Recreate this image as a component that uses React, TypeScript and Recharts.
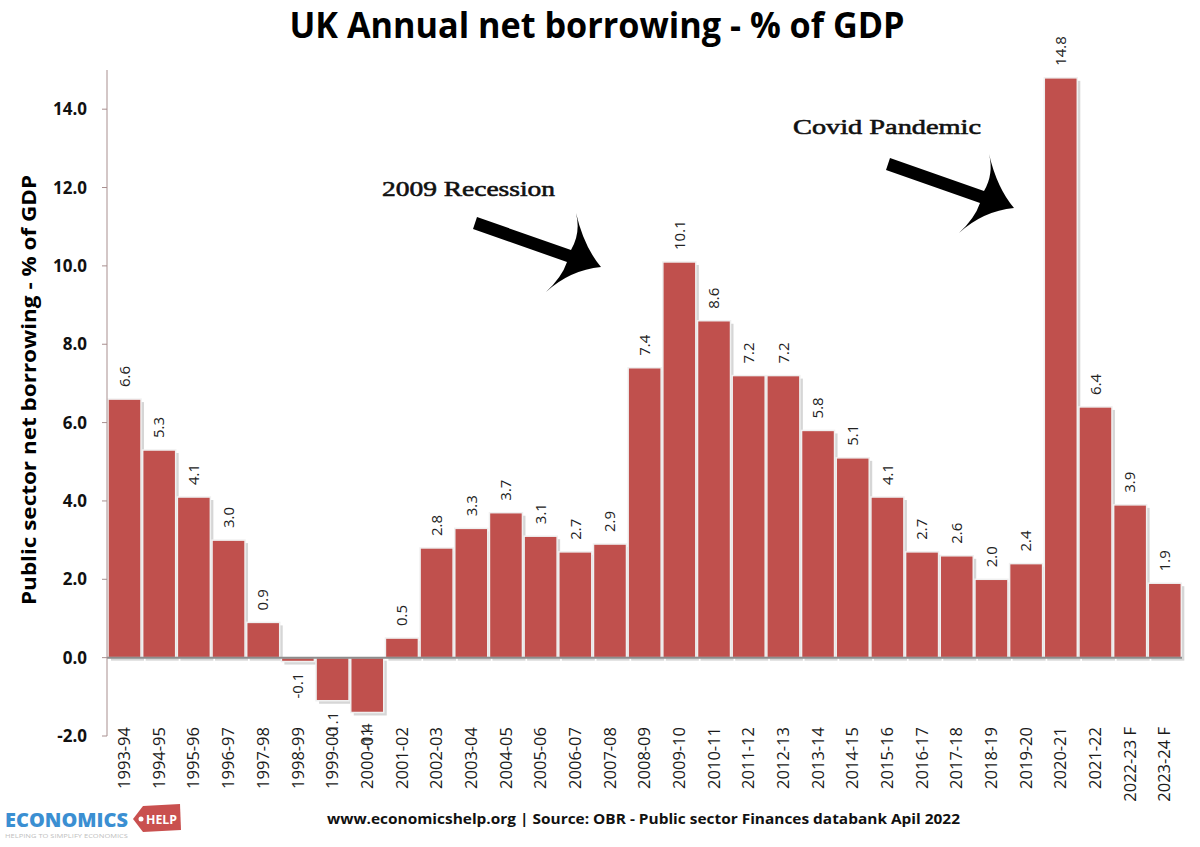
import React from "react";
import { BarChart, Bar, XAxis, YAxis, ReferenceLine, LabelList } from "recharts";

const years = [
  "1993-94", "1994-95", "1995-96", "1996-97", "1997-98", "1998-99", "1999-00", "2000-01",
  "2001-02", "2002-03", "2003-04", "2004-05", "2005-06", "2006-07", "2007-08", "2008-09",
  "2009-10", "2010-11", "2011-12", "2012-13", "2013-14", "2014-15", "2015-16", "2016-17",
  "2017-18", "2018-19", "2019-20", "2020-21", "2021-22", "2022-23 F", "2023-24 F",
];

const borrowing = [
  6.6, 5.3, 4.1, 3.0, 0.9, -0.1, -1.1, -1.4,
  0.5, 2.8, 3.3, 3.7, 3.1, 2.7, 2.9, 7.4,
  10.1, 8.6, 7.2, 7.2, 5.8, 5.1, 4.1, 2.7,
  2.6, 2.0, 2.4, 14.8, 6.4, 3.9, 1.9,
];

const yTicks = [-2, 0, 2, 4, 6, 8, 10, 12, 14];

const chartData = years.map((year, i) => ({ year, value: borrowing[i] }));

const BAR_RED = "#c0504d";
const FONT = "'Open Sans', 'DejaVu Sans', sans-serif";
const SERIF = "'Liberation Serif', 'DejaVu Serif', serif";

// bar with a soft grey drop shadow, like the Excel original
function ShadowBar(props: any) {
  const { x, y, width, height, fill } = props;
  const top = Math.min(y, y + height);
  const h = Math.abs(height);
  return (
    <g>
      <rect x={x + 3} y={top + 3} width={width} height={h} fill="#d6d6d6" />
      <rect x={x} y={top} width={width} height={h} fill={fill} stroke="#f0f0f0" strokeWidth={1.5} />
    </g>
  );
}

function ValueLabel(props: any) {
  const { x, y, width, height, value } = props;
  const cx = x + width / 2;
  const top = Math.min(y, y + height);
  const bottom = Math.max(y, y + height);
  const neg = value < 0;
  const ay = neg ? bottom + 11 : top - 12;
  return (
    <text
      transform={`translate(${cx},${ay}) rotate(-90)`}
      textAnchor={neg ? "end" : "start"}
      dy="0.35em"
      fontSize={15}
      fontFamily={FONT}
      fill="#222"
    >
      {Number(value).toFixed(1)}
    </text>
  );
}

function YearTick(props: any) {
  const { x, y, payload } = props;
  return (
    <text
      transform={`translate(${x},${y - 17}) rotate(-90)`}
      textAnchor="end"
      dy="0.35em"
      fontSize={16.5}
      fontFamily={FONT}
      fill="#1a1a1a"
    >
      {payload.value}
    </text>
  );
}

// thick black arrow, drawn relative to its tip
const arrowPath =
  "M -123 -50 L -29 -17 Q -19 -34 -24 -54 Q -16 -20 1 0 Q -30 3 -54 25 Q -38 10 -33 -5 L -127 -38 Z";

function Overlay() {
  return (
    <svg
      width={1200}
      height={847}
      style={{ position: "absolute", left: 0, top: 0, pointerEvents: "none" }}
    >
      <text x={597} y={38} textAnchor="middle" fontFamily={FONT} fontWeight="bold" fontSize={35}
        fill="#000" textLength={615} lengthAdjust="spacingAndGlyphs">
        UK Annual net borrowing - % of GDP
      </text>
      <text transform="translate(36,390) rotate(-90)" textAnchor="middle" fontFamily={FONT}
        fontWeight="bold" fontSize={19} fill="#000" textLength={430} lengthAdjust="spacingAndGlyphs">
        Public sector net borrowing - % of GDP
      </text>

      <text x={382} y={196} fontFamily={SERIF} fontSize={22} fill="#111" stroke="#111"
        strokeWidth={0.6} textLength={173} lengthAdjust="spacingAndGlyphs">
        2009 Recession
      </text>
      <path d={arrowPath} transform="translate(600,267)" fill="#000" />

      <text x={793} y={134} fontFamily={SERIF} fontSize={22} fill="#111" stroke="#111"
        strokeWidth={0.6} textLength={188} lengthAdjust="spacingAndGlyphs">
        Covid Pandemic
      </text>
      <path d={arrowPath} transform="translate(1013,208)" fill="#000" />

      <text x={327} y={824} fontFamily={FONT} fontWeight="bold" fontSize={15} fill="#111"
        textLength={633} lengthAdjust="spacingAndGlyphs">
        www.economicshelp.org | Source: OBR - Public sector Finances databank Apil 2022
      </text>

      <text x={5} y={827} fontFamily={FONT} fontWeight={800} fontSize={19} fill="#3b8fd2"
        textLength={123} lengthAdjust="spacingAndGlyphs">
        ECONOMICS
      </text>
      <polygon points="133,819 143,806 180,804 181,830 143,832" fill="#c9504f" />
      <circle cx={141} cy={819} r={2.5} fill="#fff" />
      <text x={146} y={824} fontFamily={FONT} fontWeight="bold" fontSize={12} fill="#fff"
        textLength={31} lengthAdjust="spacingAndGlyphs">
        HELP
      </text>
      <text x={5} y={838} fontFamily={FONT} fontSize={6} fill="#c0c0c0"
        textLength={123} lengthAdjust="spacingAndGlyphs">
        HELPING TO SIMPLIFY ECONOMICS
      </text>
    </svg>
  );
}

export default function App() {
  return (
    <div style={{ position: "absolute", left: 0, top: 0, width: 1200, height: 847, background: "#fff" }}>
      <BarChart
        width={1200}
        height={847}
        data={chartData}
        margin={{ top: 70, right: 18, left: 47, bottom: 0 }}
        barCategoryGap={1}
      >
        <XAxis
          dataKey="year"
          height={111}
          axisLine={false}
          tickLine={false}
          interval={0}
          tick={<YearTick />}
        />
        <YAxis
          width={60}
          domain={[-2, 15]}
          ticks={yTicks}
          allowDataOverflow
          tickFormatter={(v: number) => v.toFixed(1)}
          stroke="#a88f8f"
          tickSize={5}
          tickMargin={15}
          tick={{ fontSize: 17, fontWeight: "bold", fill: "#111", fontFamily: FONT }}
        />
        <Bar dataKey="value" fill={BAR_RED} shape={<ShadowBar />} isAnimationActive={false}>
          <LabelList dataKey="value" content={<ValueLabel />} />
        </Bar>
        <ReferenceLine y={0} stroke="#8c8c8c" strokeWidth={2} />
      </BarChart>
      <Overlay />
    </div>
  );
}
